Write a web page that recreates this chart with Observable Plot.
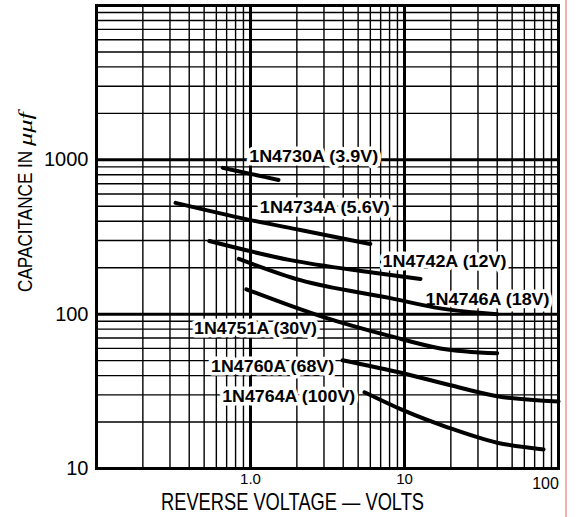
<!DOCTYPE html>
<html><head><meta charset="utf-8">
<script src="https://cdn.jsdelivr.net/npm/d3@7"></script>
<script src="https://cdn.jsdelivr.net/npm/@observablehq/plot@0.6"></script>
<style>
body{margin:0;background:#fff;}
#chart{position:relative;width:576px;height:517px;overflow:hidden;}
#edge{position:absolute;left:565px;top:0;width:2px;height:517px;background:#f3b0b0;}
</style></head><body><div id="chart"><div id="edge"></div></div>
<script>
// Grid / tick values
const xMajorGrid = [1, 10];
const xMinorGrid = [0.2,0.3,0.4,0.5,0.6,0.7,0.8,0.9, 2,3,4,5,6,7,8,9, 20,30,40,50,60,70,80,90];
const yMajorGrid = [100, 1000];
const yMinorGrid = [20,30,40,50,60,70,80,90, 200,300,400,500,600,700,800,900, 2000,3000,4000,5000,6000,7000,8000,9000];
const xTickValues = [1, 10];
const xTickLabels = ["1.0", "10"];
const xEndTickValue = [100];
const xEndTickLabel = ["100"];
const yTickValues = [10, 100, 1000];
const yTickLabels = ["10", "100", "1000"];
const xTitle = "REVERSE VOLTAGE — VOLTS";
const yTitle = "CAPACITANCE IN";
const yTitleUnit = "μμf";

// Series (reverse voltage in volts, capacitance in µµf)
const series = ["1N4730A (3.9V)", "1N4734A (5.6V)", "1N4742A (12V)", "1N4746A (18V)", "1N4751A (30V)", "1N4760A (68V)", "1N4764A (100V)"];
const v4730 = [0.66, 1.0, 1.52];          const c4730 = [887, 811, 741];
const v4734 = [0.326, 1.0, 2.11, 6.0];    const c4734 = [526, 407, 351, 285];
const v4742 = [0.54, 1.82, 6.0, 12.7];    const c4742 = [298, 224, 187, 169];
const v4746 = [0.84, 2.11, 8.1, 17.1, 40];const c4746 = [228, 166, 127, 109, 100];
const v4751 = [0.94, 2.98, 8.1, 17.1, 40];const c4751 = [145, 95.7, 72, 60, 55.8];
const v4760 = [3.96, 9.8, 19.9, 40, 100]; const c4760 = [50.3, 41.4, 34.6, 29.4, 27.2];
const v4764 = [5.5, 9.86, 19.0, 40, 80];  const c4764 = [31.2, 23.8, 18.5, 14.7, 13.3];

// Label anchor points (left edge of label)
const labelV = [0.98, 1.15, 7.2, 13.7, 0.43, 0.555, 0.655];
const labelC = [1045, 488, 218, 125, 81, 45.9, 29.4];

const volts = [v4730, v4734, v4742, v4746, v4751, v4760, v4764];
const caps  = [c4730, c4734, c4742, c4746, c4751, c4760, c4764];
const rows = series.flatMap((s, i) => volts[i].map((v, j) => ({series: s, v, c: caps[i][j]})));
const labels = series.map((s, i) => ({text: s, v: labelV[i], c: labelC[i]}));

const sans = "'Liberation Sans', Arial, sans-serif";

const svg = Plot.plot({
  width: 576, height: 517,
  marginLeft: 96, marginRight: 18, marginTop: 5, marginBottom: 49,
  x: {type: "log", domain: [0.1, 100], axis: null},
  y: {type: "log", domain: [10, 10000], axis: null},
  style: {background: "white"},
  marks: [
    Plot.ruleX(xMinorGrid, {x: d => d, stroke: "black", strokeWidth: 1.4}),
    Plot.ruleY(yMinorGrid, {y: d => d, stroke: "black", strokeWidth: 1.4}),
    Plot.ruleX(xMajorGrid, {x: d => d, stroke: "black", strokeWidth: 3}),
    Plot.ruleY(yMajorGrid, {y: d => d, stroke: "black", strokeWidth: 3}),
    Plot.frame({stroke: "black", strokeWidth: 3}),
    Plot.text(labels, {x: "v", y: "c", text: "text", textAnchor: "start", fontSize: 17, fontWeight: "bold",
      fontFamily: sans, fill: "black", stroke: "white", strokeWidth: 7}),
    Plot.line(rows, {x: "v", y: "c", z: "series", stroke: "black", strokeWidth: 4, curve: "monotone-x", strokeLinecap: "round"}),
    Plot.text(yTickValues, {x: 0.1, y: d => d, text: (d, i) => yTickLabels[i], textAnchor: "end", dx: -8, fontSize: 20, fontFamily: sans, fill: "black"}),
    Plot.text(xTickValues, {x: d => d, y: 10, text: (d, i) => xTickLabels[i], dy: 11, fontSize: 15, fontFamily: sans, fill: "black"}),
    Plot.text(xEndTickValue, {x: d => d, y: 10, text: (d, i) => xEndTickLabel[i], dy: 15, dx: -13, fontSize: 16, fontFamily: sans, fill: "black"}),
    Plot.text([xTitle], {frameAnchor: "bottom", lineAnchor: "middle", text: d => d, dx: -35, dy: 34, fontSize: 24, fontFamily: sans, fill: "black"}),
    Plot.text([yTitle], {frameAnchor: "left", textAnchor: "middle", lineAnchor: "middle", text: d => d, rotate: -90, dx: -71, dy: -35, fontSize: 21, fontFamily: sans, fill: "black"})
  ]
});
document.getElementById("chart").prepend(svg);
const allText = d3.select(svg).selectAll("text");
const labelWidths = [129, 130, 124, 124, 123, 123, 133];
allText.filter(function() { return series.includes(this.textContent); })
  .each(function() {
    const i = series.indexOf(this.textContent);
    d3.select(this).attr("textLength", labelWidths[i]).attr("lengthAdjust", "spacingAndGlyphs");
  });
allText.filter(function() { return this.textContent === xTitle; })
  .attr("textLength", 263).attr("lengthAdjust", "spacingAndGlyphs");
const yt = allText.filter(function() { return this.textContent === yTitle; });
yt.text(null);
yt.append("tspan").attr("textLength", 146).attr("lengthAdjust", "spacingAndGlyphs").text(yTitle + " ");
yt.append("tspan").attr("font-style", "italic").attr("font-family", "'Liberation Serif', serif").attr("font-size", 18)
  .attr("textLength", 34).attr("lengthAdjust", "spacingAndGlyphs").text(yTitleUnit);
</script></body></html>
